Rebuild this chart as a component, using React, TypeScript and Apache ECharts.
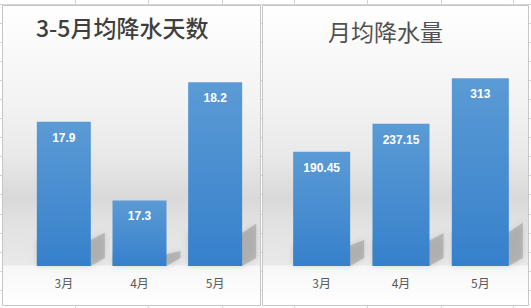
import React, { useEffect, useRef } from "react";
import * as echarts from "echarts";

const categories = ["3月", "4月", "5月"];
const rainDays = [17.9, 17.3, 18.2];
const rainAmount = [190.45, 237.15, 313];
const titleLeft = "3-5月均降水天数";
const titleRight = "月均降水量";
const leftAxisMin = 16.8;
const leftAxisMax = 18.4;
const rightAxisMin = 0;
const rightAxisMax = 350;

const W = 531;
const H = 308;
const sheetCols = [75, 148, 222, 294, 367, 441, 513];
const sheetRowStart = 3.5;
const sheetRowStep = 19.1;

const BAR_W_L = 54;
const BAR_W_R = 57;

function shadowRenderer(barW: number, yMin: number) {
  return (params: any, api: any) => {
    const idx = api.value(0);
    const val = api.value(1);
    const top = api.coord([idx, val]);
    const bot = api.coord([idx, yMin]);
    const cx = top[0];
    const y0 = bot[1];
    const h = y0 - top[1];
    const x0 = cx - barW / 2;
    const x1 = cx + barW / 2;
    const dx = 14;
    return {
      type: "polygon",
      shape: {
        points: [
          [x0, y0],
          [x1, y0],
          [x1 + dx, y0 - 8],
          [x1 + dx, y0 - h * 0.23],
          [x1, y0 - h * 0.18],
          [x0, y0 - h * 0.18],
        ],
      },
      style: {
        fill: "rgba(140,140,140,0.45)",
        shadowBlur: 6,
        shadowColor: "rgba(140,140,140,0.7)",
      },
      z2: 0,
    };
  };
}

function barGradient() {
  return new echarts.graphic.LinearGradient(0, 0, 0, 1, [
    { offset: 0, color: "#5b9bd5" },
    { offset: 1, color: "#3680cb" },
  ]);
}

function panelGradient() {
  return new echarts.graphic.LinearGradient(0, 0, 0, 1, [
    { offset: 0, color: "#ffffff" },
    { offset: 0.32, color: "#f3f3f3" },
    { offset: 0.5, color: "#e9e9e9" },
    { offset: 0.64, color: "#d9d9d9" },
    { offset: 0.73, color: "#e2e2e2" },
    { offset: 0.863, color: "#e9e9e9" },
    { offset: 0.87, color: "#f7f7f7" },
    { offset: 1, color: "#ffffff" },
  ]);
}

export default function App() {
  const ref = useRef<HTMLDivElement>(null);
  useEffect(() => {
    document.body.style.margin = "0";
    if (!ref.current) return;
    const chart = echarts.init(ref.current, null, { renderer: "svg" });

    const sheet: any[] = [
      { type: "rect", shape: { x: 0, y: 0, width: W, height: H }, style: { fill: "#ffffff" }, silent: true },
    ];
    sheetCols.forEach((x) => {
      sheet.push({
        type: "line",
        shape: { x1: x + 0.5, y1: 0, x2: x + 0.5, y2: H },
        style: { stroke: "#d4d4d4", lineWidth: 1 },
        silent: true,
      });
    });
    for (let y = sheetRowStart; y < H; y += sheetRowStep) {
      sheet.push({
        type: "line",
        shape: { x1: 0, y1: Math.round(y) + 0.5, x2: W, y2: Math.round(y) + 0.5 },
        style: { stroke: "#d4d4d4", lineWidth: 1 },
        silent: true,
      });
    }
    sheet.push({
      type: "rect",
      shape: { x: 2.5, y: 5.5, width: 258, height: 300 },
      style: { fill: panelGradient(), stroke: "#c6c6c6", lineWidth: 1 },
      silent: true,
    });
    sheet.push({
      type: "rect",
      shape: { x: 262.5, y: 5.5, width: 266, height: 300 },
      style: { fill: panelGradient(), stroke: "#c6c6c6", lineWidth: 1 },
      silent: true,
    });

    const labelStyle = {
      show: true,
      position: "insideTop",
      distance: 10,
      color: "#ffffff",
      fontSize: 12,
      fontWeight: "bold",
      fontFamily: "Liberation Sans, Arial, sans-serif",
    };

    const xAxisCommon = {
      type: "category",
      data: categories,
      axisLine: { show: false },
      axisTick: { show: false },
      axisLabel: {
        color: "#595959",
        fontSize: 12,
        margin: 10,
        fontFamily: "Noto Sans CJK SC, sans-serif",
      },
      splitLine: { show: false },
    };

    chart.setOption({
      animation: false,
      graphic: sheet,
      title: [
        {
          text: titleLeft,
          left: 36,
          top: 15,
          padding: 0,
          textStyle: {
            color: "#3f3f3f",
            fontSize: 23,
            fontWeight: 500,
            fontFamily: "Noto Sans CJK SC, sans-serif",
          },
        },
        {
          text: titleRight,
          left: 328,
          top: 19,
          padding: 0,
          textStyle: {
            color: "#505050",
            fontSize: 23,
            fontWeight: "normal",
            fontFamily: "Noto Sans CJK SC, sans-serif",
          },
        },
      ],
      grid: [
        { left: 26, top: 56, width: 227, height: 210 },
        { left: 282, top: 56, width: 238, height: 210 },
      ],
      xAxis: [
        { ...xAxisCommon, gridIndex: 0 },
        { ...xAxisCommon, gridIndex: 1 },
      ],
      yAxis: [
        { type: "value", gridIndex: 0, min: leftAxisMin, max: leftAxisMax, show: false, splitLine: { show: false } },
        { type: "value", gridIndex: 1, min: rightAxisMin, max: rightAxisMax, show: false, splitLine: { show: false } },
      ],
      series: [
        {
          type: "custom",
          xAxisIndex: 0,
          yAxisIndex: 0,
          z: 1,
          clip: false,
          silent: true,
          renderItem: shadowRenderer(BAR_W_L, leftAxisMin),
          data: rainDays.map((v, i) => [i, v]),
        },
        {
          type: "custom",
          xAxisIndex: 1,
          yAxisIndex: 1,
          z: 1,
          clip: false,
          silent: true,
          renderItem: shadowRenderer(BAR_W_R, rightAxisMin),
          data: rainAmount.map((v, i) => [i, v]),
        },
        {
          type: "bar",
          xAxisIndex: 0,
          yAxisIndex: 0,
          z: 2,
          barWidth: BAR_W_L,
          data: rainDays,
          itemStyle: { color: barGradient() },
          label: labelStyle,
        },
        {
          type: "bar",
          xAxisIndex: 1,
          yAxisIndex: 1,
          z: 2,
          barWidth: BAR_W_R,
          data: rainAmount,
          itemStyle: { color: barGradient() },
          label: labelStyle,
        },
      ],
    });
    return () => chart.dispose();
  }, []);
  return <div ref={ref} style={{ width: W, height: H }} />;
}
